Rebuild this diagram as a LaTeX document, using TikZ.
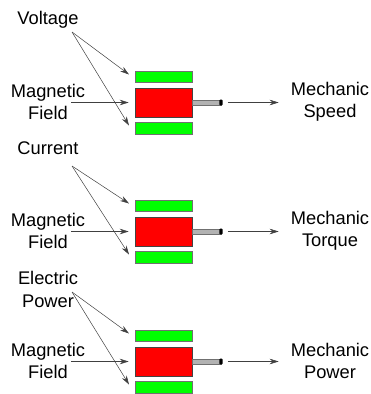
\documentclass[tikz,border=0pt]{standalone}
\usepackage{fontspec}
\setmainfont{Liberation Sans}
\usetikzlibrary{arrows.meta}
\definecolor{barg}{HTML}{00FF00}
\definecolor{barr}{HTML}{FF0000}
\definecolor{edge}{HTML}{707070}
\definecolor{linec}{HTML}{404040}
\tikzset{
  lbl/.style={font=\fontsize{18.3}{22.5}\selectfont, align=center, inner sep=0pt, text=black},
  greenbar/.style={draw=edge, line width=0.6pt, fill=barg, minimum width=57pt, minimum height=11.5pt, inner sep=0pt},
  redbox/.style={draw=edge!60!black, line width=0.6pt, fill=barr, minimum width=57pt, minimum height=29pt, inner sep=0pt},
  shaftbar/.style={draw=edge, line width=0.5pt, fill=gray!60, minimum width=29pt, minimum height=5.4pt, inner sep=0pt, anchor=west},
  arr/.style={draw=linec, line width=0.5pt, -{Stealth[length=9pt,width=5.5pt,inset=3pt]}},
}
\begin{document}
\begin{tikzpicture}[x=1pt,y=-1pt]
\useasboundingbox (0,0) rectangle (371,394);
\foreach \i/\y/\out/\cy in {1/102.5/{Mechanic\\Speed}/32, 2/231.5/{Mechanic\\Torque}/166, 3/361.5/{Mechanic\\Power}/292}{
  \node[redbox] (r\i) at (163.5,\y) {};
  \node[greenbar] (gt\i) at (163.5,\y-25.75) {};
  \node[greenbar] (gb\i) at (163.5,\y+25.75) {};
  \node[shaftbar] (s\i) at (r\i.east) {};
  \fill[black, rounded corners=1pt] ([xshift=-2.5pt]s\i.north east) rectangle ([xshift=0.8pt]s\i.south east);
  \node[lbl] (mf\i) at (48,\y-0.5) {Magnetic\\Field};
  \node[lbl] (mo\i) at (330,\y-0.5) {\out};
  \coordinate (c\i) at (72,\cy);
  \coordinate (m\i) at (71,\y);
  \coordinate (tt\i) at (129,\y-28);
  \coordinate (tb\i) at (129,\y+23);
  \draw[arr] (c\i) -- (tt\i);
  \draw[arr] (c\i) -- (tb\i);
  \draw[arr] (m\i) -- ([xshift=-6pt]r\i.west);
  \draw[arr, shorten <=6pt, shorten >=12pt] (s\i.east) -- (s\i.east -| mo\i.west);
}
\node[lbl] (in1) at (48,20) {Voltage};
\node[lbl] (in2) at (48,148) {Current};
\node[lbl] (in3) at (48,289.5) {Electric\\Power};
\end{tikzpicture}
\end{document}
